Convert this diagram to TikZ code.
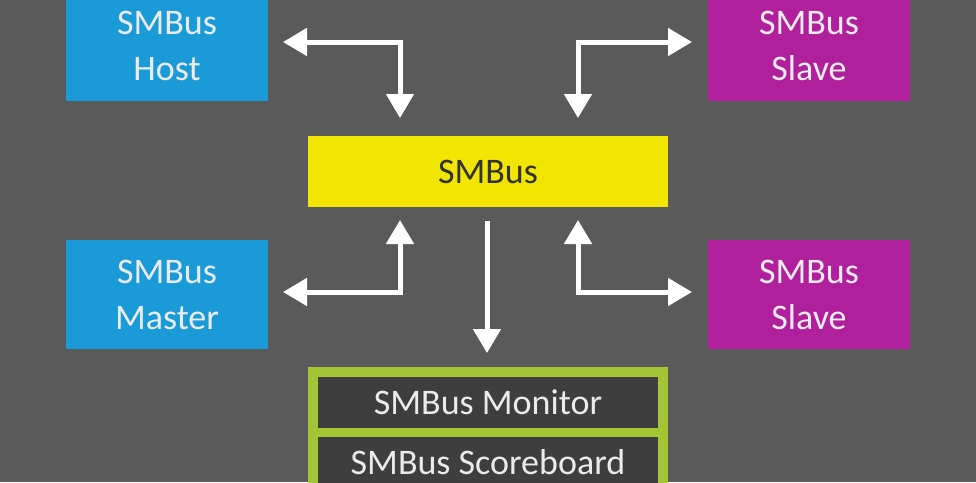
\documentclass[tikz,border=0pt]{standalone}
\usepackage{fontspec}
\setmainfont{Carlito}
\usetikzlibrary{arrows.meta}
\definecolor{bggray}{HTML}{5A5A5A}
\definecolor{hostblue}{HTML}{1A9AD6}
\definecolor{slavemag}{HTML}{B0209C}
\definecolor{busyellow}{HTML}{F2E600}
\definecolor{vgreen}{HTML}{A3C434}
\definecolor{vdark}{HTML}{3E3E3E}
\tikzset{
  blk/.style={inner sep=0pt, font=\fontsize{36}{46}\selectfont, align=center},
  bus/.style={line width=5pt, draw=white, {Triangle[width=27pt,length=24pt]}-{Triangle[width=27pt,length=24pt]}},
  onebus/.style={line width=5pt, draw=white, -{Triangle[width=27pt,length=24pt]}}
}
\begin{document}
\begin{tikzpicture}
[x=1pt, y=-1pt]
\fill[bggray] (0,0) rectangle (976,482);
\useasboundingbox (0,0) rectangle (976,482);
% masters and slaves
\node (host) [blk, fill=hostblue, minimum width=202pt, minimum height=110pt, text=white!92!black] at (167,46) {SMBus\\Host};
\node (slavea) [blk, fill=slavemag, minimum width=202pt, minimum height=110pt, text=white!92!black] at (809,46) {SMBus\\Slave};
\node (master) [blk, fill=hostblue, minimum width=202pt, minimum height=109pt, text=white!92!black] at (167,294.5) {SMBus\\Master};
\node (slaveb) [blk, fill=slavemag, minimum width=202pt, minimum height=109pt, text=white!92!black] at (809,294.5) {SMBus\\Slave};
% the bus
\node (smbus) [blk, fill=busyellow, minimum width=360pt, minimum height=71pt, text=black!80] at (488,171.5) {SMBus};
% verification components
\node (env) [fill=vgreen, inner sep=0pt, minimum width=360pt, minimum height=125pt] at (488,429.5) {};
\node (mon) [blk, fill=vdark, minimum width=340pt, minimum height=51pt, text=white!92!black] at (488,402.5) {SMBus Monitor};
\node (score) [blk, fill=vdark, minimum width=340pt, minimum height=51pt, text=white!92!black] at (488,462.5) {SMBus Scoreboard};
% connectors
\coordinate (ha) at (283,42);
\coordinate (sa) at (692,42);
\coordinate (ma) at (283,292);
\coordinate (sb) at (692,292);
\draw [bus] (ha) -| (400,118);
\draw [bus] (sa) -| (578,118);
\draw [bus] (ma) -| (400,220);
\draw [bus] (sb) -| (578,220);
\draw [onebus] (487,221) -- (487,353);
\end{tikzpicture}
\end{document}
